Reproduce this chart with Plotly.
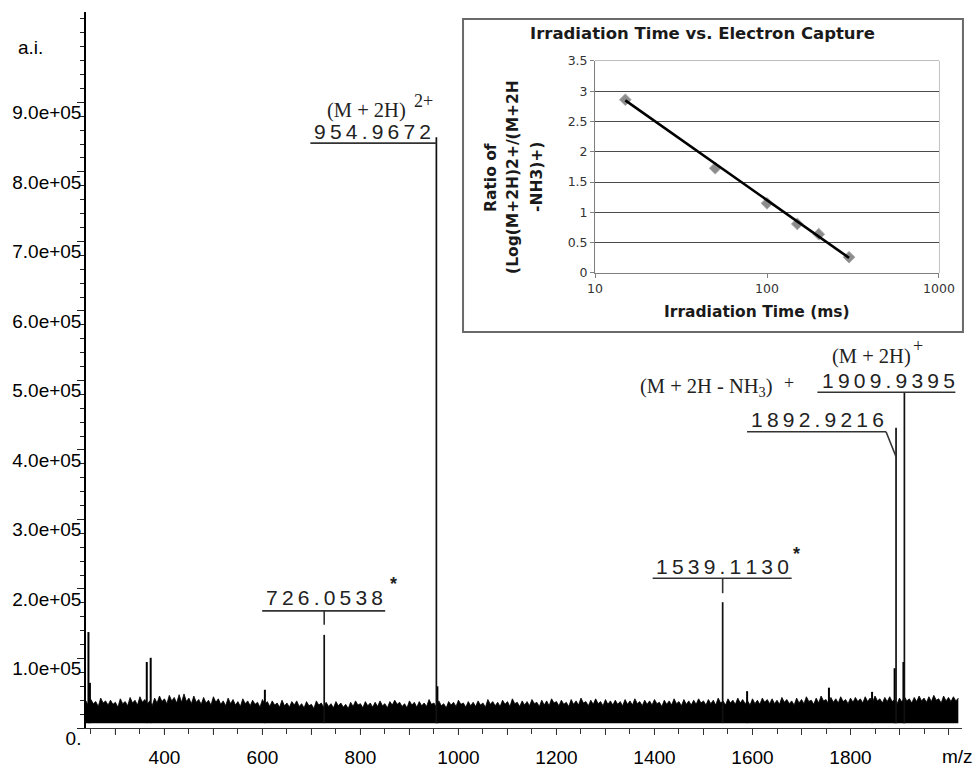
import plotly.graph_objects as go

# ---------------- data ----------------
# labelled peaks of the mass spectrum
peak_mz = [726.0538, 954.9672, 1539.1130, 1892.9216, 1909.9395]
peak_int = [1.34e5, 8.50e5, 1.81e5, 4.32e5, 4.83e5]
peak_labels = ["726.0538", "954.9672", "1539.1130", "1892.9216", "1909.9395"]

# small unlabelled peaks
minor_mz = [245, 248, 364, 372, 605, 957, 1589, 1756, 1844, 1890, 1908]
minor_int = [1.38e5, 0.65e5, 0.95e5, 1.01e5, 0.55e5, 0.60e5, 0.53e5, 0.58e5, 0.52e5, 0.86e5, 0.95e5]

# noise envelope (top of the dense noise band), every 5 m/z from 240 to 2020, in 1e4 counts
noise_mz = list(range(240, 2021, 5))
noise_top_1e4 = [
    3.9, 3.2, 4.1, 3.5, 3.8, 3.1, 4.3, 3.6, 3.9, 3.3, 4.0, 3.4, 3.7, 3.0, 4.2, 3.5, 3.8, 3.2, 4.4, 3.6,
    4.0, 3.3, 4.5, 3.7, 4.1, 3.4, 3.9, 3.2, 4.3, 3.6, 4.6, 3.8, 4.2, 3.5, 4.7, 3.9, 4.4, 3.6, 4.8, 3.7,
    4.9, 3.8, 4.3, 3.5, 4.6, 3.7, 4.1, 3.4, 4.4, 3.6, 4.0, 3.3, 4.5, 3.7, 4.2, 3.4, 3.9, 3.2, 4.3, 3.5,
    4.1, 3.3, 3.8, 3.1, 4.2, 3.5, 3.9, 3.2, 4.0, 3.4, 3.7, 3.0, 4.1, 3.4, 3.8, 3.1, 3.9, 3.3, 3.6, 3.0,
    4.0, 3.2, 3.6, 3.0, 3.8, 3.3, 3.9, 3.1, 3.5, 2.9, 3.8, 3.2, 3.4, 2.8, 3.9, 3.3, 3.6, 3.0, 3.7, 3.1,
    3.5, 2.9, 3.8, 3.2, 3.6, 3.0, 3.4, 2.8, 3.7, 3.1, 3.9, 3.3, 3.5, 2.9, 3.8, 3.2, 3.6, 3.0, 3.7, 3.1,
    3.9, 3.2, 3.5, 2.9, 3.8, 3.3, 4.0, 3.4, 3.7, 3.1, 3.5, 2.9, 3.9, 3.3, 3.7, 3.0, 3.8, 3.2, 3.6, 3.1,
    4.1, 3.4, 3.6, 3.0, 3.9, 3.2, 3.5, 2.9, 3.8, 3.3, 3.7, 3.1, 4.0, 3.4, 3.6, 3.0, 3.8, 3.2, 3.7, 3.1,
    3.9, 3.3, 3.6, 3.0, 4.1, 3.4, 3.8, 3.2, 3.7, 3.1, 4.0, 3.4, 3.8, 3.1, 4.2, 3.5, 3.7, 3.1, 3.9, 3.3,
    3.8, 3.2, 4.1, 3.5, 3.7, 3.1, 4.0, 3.3, 3.9, 3.2, 4.2, 3.6, 3.8, 3.2, 4.0, 3.4, 3.7, 3.1, 4.1, 3.4,
    3.9, 3.3, 4.3, 3.6, 3.8, 3.2, 4.0, 3.4, 4.2, 3.5, 3.8, 3.2, 4.1, 3.4, 3.9, 3.3, 4.0, 3.4, 3.8, 3.2,
    4.1, 3.4, 3.9, 3.3, 4.2, 3.5, 3.8, 3.2, 4.0, 3.4, 3.9, 3.3, 4.1, 3.5, 3.7, 3.1, 4.0, 3.4, 3.9, 3.3,
    4.2, 3.5, 3.8, 3.2, 4.1, 3.4, 3.9, 3.3, 4.0, 3.4, 4.2, 3.6, 3.9, 3.3, 4.1, 3.5, 4.0, 3.3, 4.3, 3.6,
    3.9, 3.3, 4.2, 3.6, 4.0, 3.4, 4.3, 3.6, 4.1, 3.5, 3.9, 3.3, 4.2, 3.5, 4.0, 3.4, 4.3, 3.7, 4.1, 3.5,
    4.2, 3.5, 4.0, 3.4, 4.4, 3.7, 4.1, 3.5, 3.9, 3.3, 4.3, 3.6, 4.1, 3.5, 4.5, 3.8, 4.0, 3.4, 4.3, 3.6,
    4.6, 3.9, 4.1, 3.5, 4.4, 3.7, 4.2, 3.6, 4.5, 3.8, 4.1, 3.5, 4.3, 3.7, 4.4, 3.8, 4.2, 3.6, 4.5, 3.8,
    4.3, 3.7, 4.6, 3.9, 4.2, 3.6, 4.4, 3.8, 4.5, 3.8, 4.1, 3.5, 4.3, 3.7, 4.5, 3.9, 4.2, 3.6, 4.4, 3.8,
    4.6, 3.9, 4.3, 3.7, 4.5, 3.8, 4.7, 4.0, 4.2, 3.6, 4.6, 3.9, 4.4, 3.8, 4.5, 3.9, 4.3,
]
noise_floor = 0.07e5

# axis tick labels
y_tickvals = [0, 1e5, 2e5, 3e5, 4e5, 5e5, 6e5, 7e5, 8e5, 9e5]
y_ticktext = ["0.", "1.0e+05", "2.0e+05", "3.0e+05", "4.0e+05", "5.0e+05",
              "6.0e+05", "7.0e+05", "8.0e+05", "9.0e+05"]
x_tickvals = list(range(400, 1801, 200))
x_ticktext = [str(v) for v in x_tickvals]
x_major_ticks = list(range(300, 2001, 100))

# inset data: irradiation time vs electron capture
inset_time = [15, 50, 100, 150, 200, 300]
inset_ratio = [2.86, 1.73, 1.15, 0.81, 0.64, 0.26]
trend_time = [15, 300]
trend_ratio = [2.85, 0.25]

# ---------------- figure ----------------
fig = go.Figure()

noise_top = [v * 1e4 for v in noise_top_1e4]
fig.add_trace(go.Scatter(x=noise_mz, y=[noise_floor] * len(noise_mz), mode="lines",
                         line=dict(color="black", width=0), hoverinfo="skip", showlegend=False))
fig.add_trace(go.Scatter(x=noise_mz, y=noise_top, mode="lines", fill="tonexty",
                         fillcolor="black", line=dict(color="black", width=0.8),
                         hoverinfo="skip", showlegend=False))

def stems(xs, ys, base):
    sx, sy = [], []
    for x, y in zip(xs, ys):
        sx += [x, x, None]
        sy += [base, y, None]
    return sx, sy

mx, my = stems(minor_mz, minor_int, noise_floor)
fig.add_trace(go.Scatter(x=mx, y=my, mode="lines", line=dict(color="black", width=2),
                         hoverinfo="skip", showlegend=False))
px_, py_ = stems(peak_mz, peak_int, noise_floor)
fig.add_trace(go.Scatter(x=px_, y=py_, mode="lines", line=dict(color="#111", width=1.7),
                         hoverinfo="skip", showlegend=False))

# inset traces
fig.add_trace(go.Scatter(x=inset_time, y=inset_ratio, mode="markers", xaxis="x2", yaxis="y2",
                         marker=dict(symbol="diamond", size=9, color="#8c8c8c",
                                     line=dict(color="#a8a8a8", width=1)),
                         showlegend=False))
fig.add_trace(go.Scatter(x=trend_time, y=trend_ratio, mode="lines", xaxis="x2", yaxis="y2",
                         line=dict(color="black", width=2.6), showlegend=False))

# ---------------- annotation geometry (pixel offsets relative to each peak top) ----------------
serif = "Liberation Serif, Times New Roman, serif"
mono_font = dict(family="Liberation Sans, Arial", size=21, color="#222")
THIN = "\u2009"

def spaced(s):
    return THIN.join(list(s))

label_geom = {
    "726.0538": dict(under=(-62, 61, 24), stub=(24, 10), text=(0, 37), star=(69, 51)),
    "954.9672": dict(under=(-126, 0, -6), text=(-64, 6)),
    "1539.1130": dict(under=(-70, 69, 24), stub=(24, 9), text=(0, 36), star=(74, 48)),
    "1892.9216": dict(under=(-149, -10, -4), slant=((-10, -4), (0, -29)), text=(-79, 8)),
    "1909.9395": dict(under=(-87, 51, 0), text=(-16, 12)),
}

shapes = []
annotations = []
line_style = dict(color="#333", width=1.6)
for mz, inten, lab in zip(peak_mz, peak_int, peak_labels):
    g = label_geom[lab]
    x0, x1, dy = g["under"]
    shapes.append(dict(type="line", xref="x", yref="y", xsizemode="pixel", ysizemode="pixel",
                       xanchor=mz, yanchor=inten, x0=x0, x1=x1, y0=dy, y1=dy, line=line_style))
    if "stub" in g:
        shapes.append(dict(type="line", xref="x", yref="y", xsizemode="pixel", ysizemode="pixel",
                           xanchor=mz, yanchor=inten, x0=0, x1=0, y0=g["stub"][0], y1=g["stub"][1],
                           line=line_style))
    if "slant" in g:
        (a, b), (c, d) = g["slant"]
        shapes.append(dict(type="line", xref="x", yref="y", xsizemode="pixel", ysizemode="pixel",
                           xanchor=mz, yanchor=inten, x0=a, x1=c, y0=b, y1=d, line=line_style))
    tx, ty = g["text"]
    annotations.append(dict(x=mz, y=inten, xref="x", yref="y", text=spaced(lab), showarrow=False,
                            xshift=tx, yshift=ty, font=mono_font, xanchor="center", yanchor="middle"))
    if "star" in g:
        sx, sy = g["star"]
        annotations.append(dict(x=mz, y=inten, xref="x", yref="y", text="<b>*</b>", showarrow=False,
                                xshift=sx, yshift=sy, font=dict(family="Liberation Sans", size=18, color="#222"),
                                xanchor="center", yanchor="middle"))

# ion labels (serif)
def ion(mz, inten, text, dx, dy, size=20.5):
    annotations.append(dict(x=mz, y=inten, xref="x", yref="y", text=text, showarrow=False,
                            xshift=dx, yshift=dy, font=dict(family=serif, size=size, color="#222"),
                            xanchor="center", yanchor="middle"))

ion(peak_mz[1], peak_int[1], "(M + 2H)", -70, 27)
ion(peak_mz[1], peak_int[1], "2+", -13, 36, 18)
ion(peak_mz[4], peak_int[4], "(M + 2H)", -33, 36)
ion(peak_mz[4], peak_int[4], "+", 14, 46, 18)
ion(peak_mz[3], peak_int[3], "(M + 2H - NH<sub>3</sub>)", -190, 40)
ion(peak_mz[3], peak_int[3], "+", -107, 45, 18)

# main axes extra labels
main_font = dict(family="Liberation Sans, Arial", size=19, color="black")
annotations.append(dict(x=-0.0628, y=0.951, xref="paper", yref="paper", text="a.i.", showarrow=False,
                        font=main_font, xanchor="center", yanchor="middle"))
annotations.append(dict(x=0.9943, y=-0.0405, xref="paper", yref="paper", text="m/z", showarrow=False,
                        font=main_font, xanchor="center", yanchor="middle"))

# inset box and plot background
shapes.insert(0, dict(type="rect", xref="paper", yref="paper", x0=0.4304, x1=1.0011, y0=0.5531, y1=0.9902,
                      fillcolor="white", line=dict(color="#6a6a6a", width=2), layer="below"))
shapes.insert(1, dict(type="rect", xref="x2 domain", yref="y2 domain", x0=0, x1=1, y0=0, y1=1,
                      fillcolor="#c0c0c0", line=dict(color="#808080", width=1), layer="below"))

# major x ticks (every 100 m/z), slightly longer than the minor ones
for v in x_major_ticks:
    shapes.append(dict(type="line", xref="x", yref="paper", ysizemode="pixel", yanchor=0,
                       x0=v, x1=v, y0=0, y1=-7, line=dict(color="#333", width=1)))

inset_bold = dict(family="DejaVu Sans, Verdana", size=15.5, color="#1a1a1a")
annotations.append(dict(x=0.7043, y=0.9693, xref="paper", yref="paper",
                        text="<b>Irradiation Time vs. Electron Capture</b>", showarrow=False,
                        font=dict(family="DejaVu Sans, Verdana", size=16.5, color="#1a1a1a"),
                        xanchor="center", yanchor="middle"))
annotations.append(dict(x=0.766, y=0.581, xref="paper", yref="paper",
                        text="<b>Irradiation Time (ms)</b>", showarrow=False,
                        font=inset_bold, xanchor="center", yanchor="middle"))
for xp, t in [(0.4623, "Ratio of"), (0.4874, "(Log(M+2H)2+/(M+2H"), (0.5148, "-NH3)+)")]:
    annotations.append(dict(x=xp, y=0.7696, xref="paper", yref="paper", text="<b>" + t + "</b>",
                            showarrow=False, textangle=-90, font=inset_bold,
                            xanchor="center", yanchor="middle"))

fig.update_layout(
    width=975, height=768,
    margin=dict(l=86, r=13, t=12, b=40, autoexpand=False),
    paper_bgcolor="white", plot_bgcolor="white",
    font=main_font,
    showlegend=False,
    xaxis=dict(range=[240, 2027.5], showgrid=False, zeroline=False, showline=True, automargin=False,
               linecolor="#333", linewidth=1, ticks="", tickvals=x_tickvals, ticktext=x_ticktext,
               ticklabelstandoff=12,
               minor=dict(ticks="outside", ticklen=5, tick0=250, dtick=50, tickcolor="#333"),
               tickfont=main_font),
    yaxis=dict(range=[0, 1.03e6], showgrid=False, zeroline=False, showline=True, automargin=False,
               linecolor="black", linewidth=1.5, ticks="outside", ticklen=7, tickcolor="#222",
               tickvals=y_tickvals, ticktext=y_ticktext, ticklabelshift=10, ticklabelstandoff=-8,
               minor=dict(ticks="outside", ticklen=4, tick0=0, dtick=2e4, tickcolor="#222"),
               tickfont=main_font),
    xaxis2=dict(type="log", range=[1, 3], domain=[0.5811, 0.9737], anchor="y2", automargin=False,
                showgrid=False, zeroline=False, showline=True, linecolor="#808080",
                ticks="outside", ticklen=4, tickcolor="#808080",
                tickvals=[10, 100, 1000], ticktext=["10", "100", "1000"],
                tickfont=dict(family="DejaVu Sans, Verdana", size=12.5, color="#333")),
    yaxis2=dict(range=[0, 3.5], domain=[0.6355, 0.9316], anchor="x2", automargin=False,
                showgrid=True, gridcolor="#4a4a4a", gridwidth=1, zeroline=False,
                showline=True, linecolor="#808080", ticks="outside", ticklen=4, tickcolor="#808080",
                tickvals=[0, 0.5, 1, 1.5, 2, 2.5, 3, 3.5],
                ticktext=["0", "0.5", "1", "1.5", "2", "2.5", "3", "3.5"],
                tickfont=dict(family="DejaVu Sans, Verdana", size=12.5, color="#333")),
    shapes=shapes,
    annotations=annotations,
)

fig.write_html("out.html", config={"displayModeBar": False},
               post_script="document.body.style.margin='0px';")
